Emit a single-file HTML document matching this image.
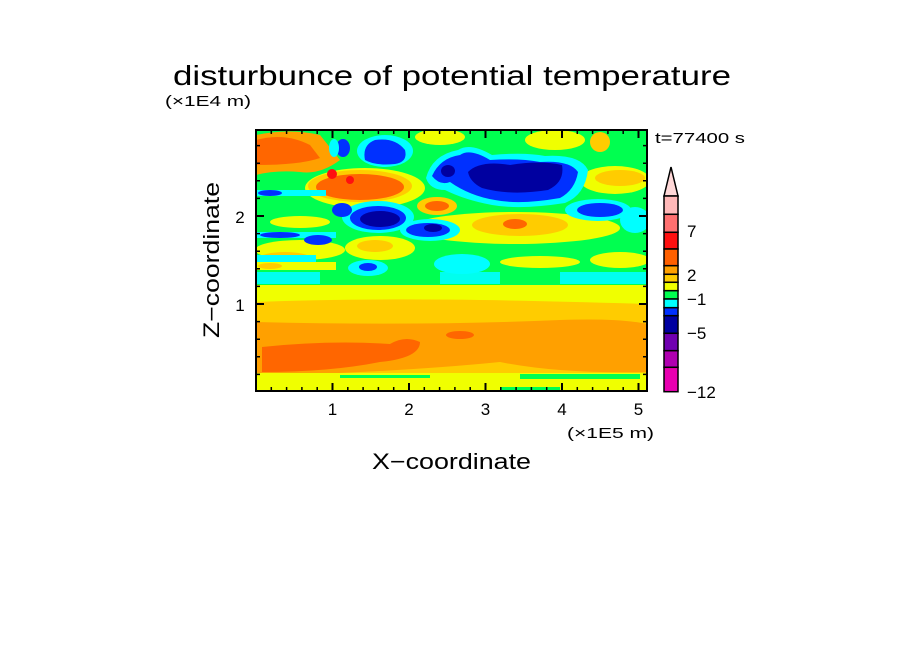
<!DOCTYPE html>
<html><head><meta charset="utf-8"><style>
html,body{margin:0;padding:0;background:#fff;}
svg{display:block;}
text{font-family:"Liberation Sans",sans-serif;fill:#000;}
</style></head><body>
<svg width="904" height="654" viewBox="0 0 904 654" xmlns="http://www.w3.org/2000/svg">
<defs><clipPath id="c"><rect x="256" y="130" width="391" height="261"/></clipPath></defs>
<g clip-path="url(#c)">
<rect x="256" y="130" width="391" height="261" fill="#00ff50"/>
<rect x="256" y="285" width="391" height="106" fill="#f0ff00"/>
<path d="M256 302 Q400 296 647 304 L647 376 L256 376 Z" fill="#ffcc00"/>
<path d="M256 322 Q420 326 560 320 Q620 318 647 324 L647 372 Q560 374 500 362 Q400 372 256 376 Z" fill="#ffa000"/>
<path d="M262 347 Q330 340 390 344 Q405 335 420 342 Q420 358 380 362 Q330 372 262 372 Z" fill="#ff6600"/>
<ellipse cx="460" cy="335" rx="14" ry="4" fill="#ff6600"/>
<rect x="256" y="373" width="391" height="11" fill="#f0ff00"/>
<rect x="340" y="375" width="90" height="3" fill="#00ff50"/>
<rect x="520" y="374" width="120" height="5" fill="#00ff50"/>
<rect x="500" y="387" width="60" height="4" fill="#00ff50"/>
<rect x="256" y="272" width="391" height="12" fill="#00ffff" opacity="0.9"/>
<rect x="320" y="270" width="120" height="14" fill="#00ff50"/>
<rect x="500" y="272" width="60" height="12" fill="#00ff50"/>
<path d="M256 135 Q290 128 320 135 L340 160 Q320 175 300 172 Q275 170 256 175 Z" fill="#ffa000"/>
<path d="M256 140 Q285 132 310 145 L320 158 Q300 165 256 165 Z" fill="#ff6600"/>
<ellipse cx="365" cy="188" rx="60" ry="20" fill="#f0ff00"/>
<ellipse cx="360" cy="186" rx="52" ry="16" fill="#ffcc00"/>
<ellipse cx="360" cy="187" rx="44" ry="13" fill="#ff6600"/>
<ellipse cx="332" cy="174" rx="5" ry="5" fill="#ff1010"/>
<ellipse cx="350" cy="180" rx="4" ry="4" fill="#ff1010"/>
<ellipse cx="515" cy="228" rx="105" ry="16" fill="#f0ff00"/>
<ellipse cx="520" cy="225" rx="48" ry="11" fill="#ffcc00"/>
<ellipse cx="515" cy="224" rx="12" ry="5" fill="#ff6600"/>
<ellipse cx="437" cy="206" rx="20" ry="9" fill="#ffcc00"/>
<ellipse cx="437" cy="206" rx="12" ry="5" fill="#ff6600"/>
<ellipse cx="380" cy="248" rx="35" ry="12" fill="#f0ff00"/>
<ellipse cx="375" cy="246" rx="18" ry="6" fill="#ffcc00"/>
<ellipse cx="540" cy="262" rx="40" ry="6" fill="#f0ff00"/>
<ellipse cx="620" cy="260" rx="30" ry="8" fill="#f0ff00"/>
<ellipse cx="615" cy="180" rx="35" ry="14" fill="#f0ff00"/>
<ellipse cx="620" cy="178" rx="25" ry="8" fill="#ffcc00"/>
<ellipse cx="300" cy="250" rx="45" ry="10" fill="#f0ff00"/>
<ellipse cx="285" cy="258" rx="25" ry="6" fill="#ffcc00"/>
<ellipse cx="300" cy="222" rx="30" ry="6" fill="#f0ff00"/>
<ellipse cx="440" cy="137" rx="25" ry="8" fill="#f0ff00"/>
<ellipse cx="555" cy="140" rx="30" ry="10" fill="#f0ff00"/>
<ellipse cx="600" cy="142" rx="10" ry="10" fill="#ffcc00"/>
<path d="M426 178 Q432 155 458 150 Q470 142 492 155 Q525 152 545 156 Q580 154 588 170 Q585 195 565 203 Q520 210 492 205 Q465 200 445 190 Q430 190 426 178 Z" fill="#00ffff"/>
<path d="M432 176 Q440 158 460 155 Q470 148 490 160 Q520 158 540 162 Q570 160 578 172 Q575 190 560 198 Q520 205 495 200 Q470 196 450 182 Q440 186 432 176 Z" fill="#0030ff"/>
<path d="M468 172 Q480 160 510 165 Q540 160 562 165 Q565 182 548 190 Q510 196 482 188 Q470 182 468 172 Z" fill="#0000a0"/>
<ellipse cx="448" cy="171" rx="7" ry="6" fill="#0000a0"/>
<ellipse cx="385" cy="151" rx="28" ry="16" fill="#00ffff"/>
<path d="M365 160 Q362 145 375 140 Q395 137 405 150 Q408 162 395 164 Q375 166 365 160 Z" fill="#0030ff"/>
<ellipse cx="343" cy="148" rx="7" ry="9" fill="#0030ff"/>
<ellipse cx="334" cy="148" rx="5" ry="9" fill="#00ffff"/>
<ellipse cx="378" cy="217" rx="36" ry="16" fill="#00ffff"/>
<ellipse cx="378" cy="218" rx="28" ry="12" fill="#0030ff"/>
<ellipse cx="380" cy="219" rx="20" ry="8" fill="#0000a0"/>
<ellipse cx="342" cy="210" rx="10" ry="7" fill="#0030ff"/>
<ellipse cx="430" cy="230" rx="30" ry="11" fill="#00ffff"/>
<ellipse cx="428" cy="230" rx="22" ry="7" fill="#0030ff"/>
<ellipse cx="433" cy="228" rx="9" ry="4" fill="#0000a0"/>
<ellipse cx="598" cy="210" rx="33" ry="11" fill="#00ffff"/>
<ellipse cx="600" cy="210" rx="23" ry="7" fill="#0030ff"/>
<ellipse cx="462" cy="264" rx="28" ry="10" fill="#00ffff"/>
<ellipse cx="368" cy="268" rx="20" ry="8" fill="#00ffff"/>
<ellipse cx="368" cy="267" rx="9" ry="4" fill="#0030ff"/>
<ellipse cx="635" cy="220" rx="15" ry="13" fill="#00ffff"/>
<rect x="256" y="190" width="70" height="6" fill="#00ffff"/>
<ellipse cx="270" cy="193" rx="12" ry="3" fill="#0030ff"/>
<rect x="256" y="232" width="80" height="6" fill="#00ffff"/>
<ellipse cx="280" cy="235" rx="20" ry="3" fill="#0030ff"/>
<ellipse cx="318" cy="240" rx="14" ry="5" fill="#0030ff"/>
<rect x="256" y="255" width="60" height="8" fill="#00ffff"/>
<rect x="256" y="262" width="80" height="8" fill="#f0ff00"/>
<ellipse cx="270" cy="266" rx="12" ry="3" fill="#ffcc00"/>
</g>
<rect x="256" y="130" width="391" height="261" fill="none" stroke="#000" stroke-width="2"/>
<g stroke="#000" stroke-width="1.5">
<path d="M271.3 391v-4M286.6 391v-4M301.9 391v-4M317.2 391v-4M347.8 391v-4M363.1 391v-4M378.4 391v-4M393.7 391v-4M424.3 391v-4M439.6 391v-4M454.9 391v-4M470.2 391v-4M500.8 391v-4M516.1 391v-4M531.4 391v-4M546.7 391v-4M577.3 391v-4M592.6 391v-4M607.9 391v-4M623.2 391v-4M638.5 391v-4"/>
<path d="M271.3 130v4M286.6 130v4M301.9 130v4M317.2 130v4M347.8 130v4M363.1 130v4M378.4 130v4M393.7 130v4M424.3 130v4M439.6 130v4M454.9 130v4M470.2 130v4M500.8 130v4M516.1 130v4M531.4 130v4M546.7 130v4M577.3 130v4M592.6 130v4M607.9 130v4M623.2 130v4M638.5 130v4"/>
<path d="M332.5 391v-8M409 391v-8M485.5 391v-8M562 391v-8M638.5 391v-8M332.5 130v8M409 130v8M485.5 130v8M562 130v8M638.5 130v8" stroke-width="2"/>
<path d="M256 374.4h4M256 356.8h4M256 339.2h4M256 321.6h4M256 286.4h4M256 268.8h4M256 251.2h4M256 233.6h4M256 198.4h4M256 180.8h4M256 163.2h4M256 145.6h4"/>
<path d="M647 374.4h-4M647 356.8h-4M647 339.2h-4M647 321.6h-4M647 286.4h-4M647 268.8h-4M647 251.2h-4M647 233.6h-4M647 198.4h-4M647 180.8h-4M647 163.2h-4M647 145.6h-4"/>
<path d="M256 304h8M256 216h8M647 304h-8M647 216h-8" stroke-width="2"/>
</g>
<g stroke="#000" stroke-width="1.5">
<path d="M664 196 L671 167 L678 196 Z" fill="#ffd8d8"/>
<rect x="664" y="196" width="14" height="18.3" fill="#ffb8b8"/>
<rect x="664" y="214.3" width="14" height="18" fill="#ff7070"/>
<rect x="664" y="232.3" width="14" height="16.7" fill="#ff1010"/>
<rect x="664" y="249" width="14" height="16.7" fill="#ff6000"/>
<rect x="664" y="265.7" width="14" height="8.6" fill="#ffa000"/>
<rect x="664" y="274.3" width="14" height="8" fill="#ffcc00"/>
<rect x="664" y="282.3" width="14" height="8.4" fill="#f0ff00"/>
<rect x="664" y="290.7" width="14" height="8.3" fill="#00ff50"/>
<rect x="664" y="299" width="14" height="8.7" fill="#00ffff"/>
<rect x="664" y="307.7" width="14" height="8" fill="#0030ff"/>
<rect x="664" y="315.7" width="14" height="17.6" fill="#0000a0"/>
<rect x="664" y="333.3" width="14" height="17.4" fill="#7000b0"/>
<rect x="664" y="350.7" width="14" height="16.6" fill="#b000b0"/>
<rect x="664" y="367.3" width="14" height="24.4" fill="#e800b0"/>
</g>
<g font-size="17">
<text x="687" y="237">7</text>
<text x="687" y="281">2</text>
<text x="687" y="305">−1</text>
<text x="687" y="339">−5</text>
<text x="687" y="398">−12</text>
</g>
<text x="173" y="85" font-size="28" textLength="558" lengthAdjust="spacingAndGlyphs">disturbunce of potential temperature</text>
<text x="165" y="106" font-size="15" textLength="86" lengthAdjust="spacingAndGlyphs">(×1E4 m)</text>
<text x="655" y="143" font-size="15" textLength="90" lengthAdjust="spacingAndGlyphs">t=77400 s</text>
<g font-size="17" text-anchor="middle">
<text x="332.5" y="415">1</text><text x="409" y="415">2</text><text x="485.5" y="415">3</text><text x="562" y="415">4</text><text x="638.5" y="415">5</text>
<text x="240" y="311">1</text><text x="240" y="223">2</text>
</g>
<text x="567" y="438" font-size="15" textLength="87" lengthAdjust="spacingAndGlyphs">(×1E5 m)</text>
<text x="372" y="469" font-size="22" textLength="159" lengthAdjust="spacingAndGlyphs">X−coordinate</text>
<text transform="translate(219,338) rotate(-90)" font-size="22" textLength="156" lengthAdjust="spacingAndGlyphs">Z−coordinate</text>
</svg>
</body></html>
